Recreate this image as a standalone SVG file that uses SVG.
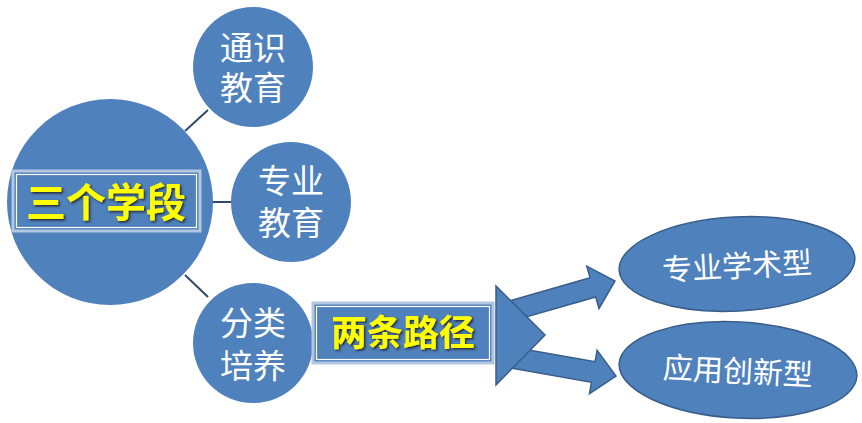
<svg xmlns="http://www.w3.org/2000/svg" width="862" height="423" viewBox="0 0 862 423">
<defs>
<filter id="sh" x="-10%" y="-20%" width="130%" height="150%">
<feDropShadow dx="1.5" dy="1.5" stdDeviation="0.8" flood-color="#1a1a1a" flood-opacity="0.9"/>
</filter>
</defs>
<style>
.node{fill:#4F81BD;}
.shape{fill:#4F81BD;stroke:#385D8A;stroke-width:1.5;}
.conn{stroke:#2F4A6B;stroke-width:2;fill:none;}
.ct{font-family:"Noto Sans CJK SC","Noto Sans",sans-serif;font-size:33px;fill:#FFFFFF;text-anchor:middle;}
.et{font-family:"Noto Sans CJK SC","Noto Sans",sans-serif;font-size:30px;fill:#FFFFFF;text-anchor:middle;}
.lbox{fill:#4F81BD;stroke:#B4C7E2;stroke-width:3;}
.lin{fill:none;stroke:#FFFFFF;stroke-width:1.2;}
.lt{font-family:"Noto Sans CJK SC","Noto Sans",sans-serif;font-weight:bold;fill:#FFFF00;text-anchor:middle;filter:url(#sh);}
</style>
<rect width="862" height="423" fill="#FFFFFF"/>
<g id="connectors">
<line class="conn" x1="185" y1="131" x2="208" y2="110"/>
<line class="conn" x1="213" y1="202" x2="231" y2="202"/>
<line class="conn" x1="185" y1="275" x2="208" y2="297"/>
</g>
<g id="node-main">
<circle class="node" cx="110" cy="202" r="103"/>
<rect class="lbox" x="13" y="171" width="187" height="60"/>
<rect class="lin" x="16.5" y="174.5" width="180" height="53"/>
<text class="lt" x="106" y="217" font-size="40">三个学段</text>
</g>
<g id="node-tongshi">
<circle class="node" cx="253" cy="67" r="60"/>
<text class="ct"><tspan x="253" y="60">通识</tspan><tspan x="253" y="100">教育</tspan></text>
</g>
<g id="node-zhuanye">
<circle class="node" cx="291" cy="202" r="60"/>
<text class="ct"><tspan x="291" y="193">专业</tspan><tspan x="291" y="235">教育</tspan></text>
</g>
<g id="node-fenlei">
<circle class="node" cx="253" cy="343" r="60"/>
<text class="ct"><tspan x="253" y="335">分类</tspan><tspan x="253" y="378">培养</tspan></text>
</g>
<g id="node-liangtiao">
<rect class="lbox" x="313" y="303" width="180" height="60"/>
<rect class="lin" x="316.5" y="306.5" width="173" height="53"/>
<text class="lt" x="403" y="346" font-size="36">两条路径</text>
</g>
<g id="arrows">
<polygon class="shape" points="508.4,301.2 590.1,277.7 586.8,266.2 615,281 599,308.5 595.7,297 514,320.4"/>
<polygon class="shape" points="511.4,346.9 595.1,361.7 597.1,350.3 616,376 589.5,393.7 591.5,382.3 507.8,367.5"/>
<polygon class="shape" points="496,286 545,335 496,385"/>
</g>
<g id="node-xueshu">
<ellipse class="shape" cx="737" cy="264" rx="118" ry="47" transform="rotate(-3 737 264)"/>
<text class="et" x="737" y="277" transform="rotate(-3 737 266)">专业学术型</text>
</g>
<g id="node-chuangxin">
<ellipse class="shape" cx="738" cy="370" rx="119" ry="48" transform="rotate(3 738 370)"/>
<text class="et" x="738" y="382" transform="rotate(3 738 371)">应用创新型</text>
</g>
</svg>
